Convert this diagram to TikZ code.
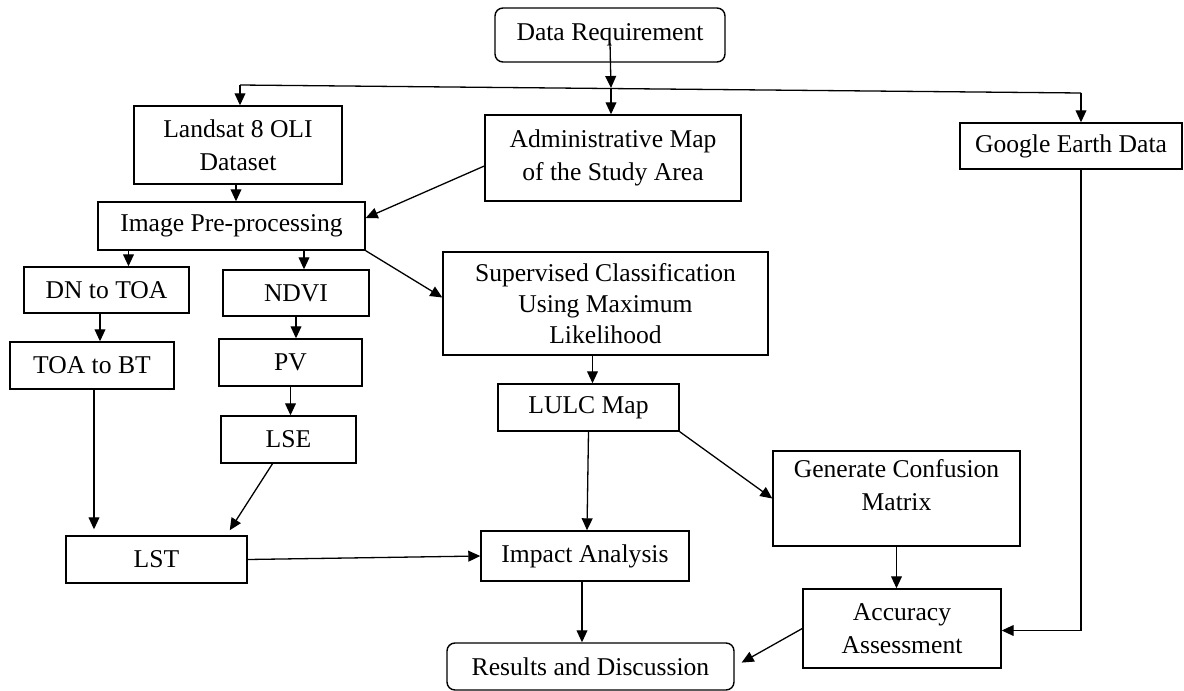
\documentclass[tikz,border=0pt]{standalone}
\usepackage{fontspec}
\setmainfont{Liberation Serif}
\usetikzlibrary{arrows.meta, calc}

\begin{document}
\begin{tikzpicture}[x=0.5pt, y=-0.5pt, >={Triangle[length=6pt, width=5.4pt]},
    box/.style={draw, line width=0.7pt, align=center, inner sep=0pt, font=\fontsize{12.8}{16.5}\selectfont},
    rbox/.style={box, rounded corners=4pt},
    link/.style={->, line width=0.65pt}]
    \useasboundingbox (0,0) rectangle (1184,691);

    % Data sources
    \node[rbox, minimum width=115pt, minimum height=27pt] (req) at (610,35) {Data Requirement};
    \node[box, minimum width=104pt, minimum height=39pt] (landsat) at (238,145) {Landsat 8 OLI\\Dataset};
    \node[box, minimum width=128pt, minimum height=43pt] (admin) at (613,158) {Administrative Map\\of the Study Area};
    \node[box, minimum width=111pt, minimum height=23pt] (google) at (1071,146) {Google Earth Data};

    % LST branch
    \node[box, minimum width=133.5pt, minimum height=24pt] (pre) at (231.5,226) {Image Pre-processing};
    \node[box, minimum width=82.5pt, minimum height=23pt] (dn) at (106.5,290) {DN to TOA};
    \node[box, minimum width=73pt, minimum height=23pt] (ndvi) at (296,293) {NDVI};
    \node[box, minimum width=82pt, minimum height=23.5pt] (toabt) at (92,365.5) {TOA to BT};
    \node[box, minimum width=71.5pt, minimum height=23.5pt] (pv) at (290.5,362.5) {PV};
    \node[box, minimum width=67.5pt, minimum height=23.5pt] (lse) at (288.5,439.5) {LSE};
    \node[box, minimum width=90.5pt, minimum height=23.5pt] (lst) at (156.5,559.5) {LST};

    % LULC branch
    \node[box, minimum width=162.5pt, minimum height=51.5pt, font=\fontsize{12.8}{15.5}\selectfont] (sup) at (605.5,303.5) {Supervised Classification\\Using Maximum\\Likelihood};
    \node[box, minimum width=90.5pt, minimum height=23.5pt] (lulc) at (588.5,407.5) {LULC Map};
    \node[box, minimum width=123.5pt, minimum height=47.5pt, text depth=14pt] (conf) at (896.5,498.5) {Generate Confusion\\Matrix};
    \node[box, minimum width=99pt, minimum height=39.5pt] (acc) at (902,628.5) {Accuracy\\Assessment};

    % Outputs
    \node[box, minimum width=104pt, minimum height=25pt] (impact) at (585,556) {Impact Analysis};
    \node[rbox, minimum width=143.5pt, minimum height=23.5pt] (results) at (590.5,666.5) {Results and Discussion};

    % Split line
    \coordinate (lcorner) at (240,85);
    \coordinate (rcorner) at (1081,93);
    \coordinate (split) at (611,88);
    \draw[line width=0.65pt] (lcorner) -- (rcorner);
    \draw[link] ([yshift=-4pt]req.center) -- (split);
    \draw[link] (split) -- (split |- admin.north);
    \draw[link] (lcorner) -- (lcorner |- landsat.north);
    \draw[link] (rcorner) -- (rcorner |- google.north);

    % Arrows
    \draw[link] ([xshift=-1pt]landsat.south) -- ([xshift=-1pt]landsat.south |- pre.north);
    \draw[link] ([yshift=-4pt]admin.west) -- ([yshift=4pt]pre.east);
    \draw[link] ([xshift=11pt]dn.north |- pre.south) -- ([xshift=11pt]dn.north);
    \draw[link] ([xshift=4pt]ndvi.north |- pre.south) -- ([xshift=4pt]ndvi.north);
    \draw[link] (pre.south east) -- ([yshift=3pt]sup.west);
    \draw[link] ([xshift=4pt]toabt.north |- dn.south) -- ([xshift=4pt]toabt.north);
    \draw[link] (ndvi.south) -- (ndvi.south |- pv.north);
    \draw[link] (pv.south) -- (pv.south |- lse.north);
    \draw[link, shorten >=3pt] ([xshift=1pt]toabt.south) -- ([xshift=1pt]toabt.south |- lst.north);
    \draw[link, shorten >=3pt] ([xshift=-8pt]lse.south) -- ([xshift=35pt]lst.north);
    \draw[link] (lst.east) -- (impact.west);
    \draw[link] ([xshift=2pt]lulc.north |- sup.south) -- ([xshift=2pt]lulc.north);
    \draw[link] (lulc.south) -- ([xshift=1pt]impact.north);
    \draw[link] (lulc.south east) -- (conf.west);
    \draw[link] ([xshift=-1.5pt]impact.south) -- ([xshift=-1.5pt]impact.south |- results.north);
    \draw[link] (conf.south) -- (conf.south |- acc.north);
    \draw[link, shorten >=4pt] (acc.west) -- (results.east);
    \draw[link] ([xshift=5pt]google.south) |- ([yshift=-1pt]acc.east);
  \end{tikzpicture}
\end{document}
